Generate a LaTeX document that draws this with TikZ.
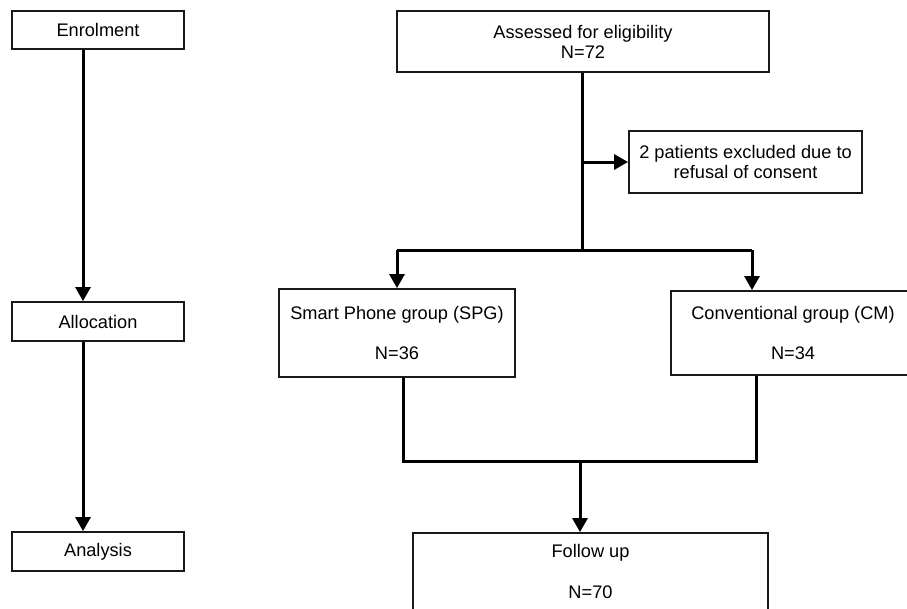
\documentclass[tikz,border=0pt]{standalone}
\usepackage{fontspec}
\setmainfont{Liberation Sans}
\usetikzlibrary{arrows.meta}
\begin{document}
\begin{tikzpicture}[x=1pt,y=-1pt,
  box/.style={draw=black!90,line width=1.8pt,fill=white,inner sep=0pt,align=center,
    font=\fontsize{18.2}{20}\selectfont},
  conn/.style={line width=3pt,black},
  arr/.style={conn,-{Triangle[length=14pt,width=15pt]}}]
\useasboundingbox (0,0) rectangle (907,608);
% left column
\node[box,minimum width=172pt,minimum height=38pt] (enrol) at (98,30) {Enrolment};
\node[box,minimum width=172pt,minimum height=39pt] (alloc) at (98,321.5) {Allocation};
\node[box,minimum width=172pt,minimum height=39pt] (anal) at (98,551.5) {Analysis};
\draw[arr] ([xshift=-15pt]enrol.south) -- ([xshift=-15pt]alloc.north);
\draw[arr] ([xshift=-15pt]alloc.south) -- ([xshift=-15pt]anal.north);
% main flow
\node[box,minimum width=372pt,minimum height=61pt] (assess) at (583,41.5) {Assessed for eligibility\\N=72};
\node[box,minimum width=233pt,minimum height=62pt] (excl) at (745.5,162) {2 patients excluded due to\\refusal of consent};
\node[box,minimum width=236pt,minimum height=88pt] (spg) at (397,333) {Smart Phone group (SPG)\\[20pt]N=36};
\node[box,minimum width=244pt,minimum height=84pt] (cm) at (793,333) {Conventional group (CM)\\[20pt]N=34};
\node[box,minimum width=355pt,minimum height=77pt] (follow) at (590.5,571.5) {Follow up\\[21pt]N=70};
\coordinate (split) at (582,250);
\coordinate (spgin) at (397,250);
\coordinate (cmin) at (752,250);
\coordinate (jl) at (403,461);
\coordinate (jr) at (756,461);
\coordinate (jm) at (580,461);
\draw[conn] ([xshift=-1pt]assess.south) -- (split);
\draw[arr] (assess.south |- excl.west) ++(-1pt,0) -- (excl.west);
\draw[conn] (spgin) -- (cmin);
\draw[arr] (spgin) -- (spg.north);
\draw[arr] (cmin) -- ([xshift=-41pt]cm.north);
\draw[conn] ([xshift=6pt]spg.south) -- (jl) -- (jr) -- ([xshift=-37pt]cm.south);
\draw[arr] (jm) -- ([xshift=-10.5pt]follow.north);
\end{tikzpicture}
\end{document}
